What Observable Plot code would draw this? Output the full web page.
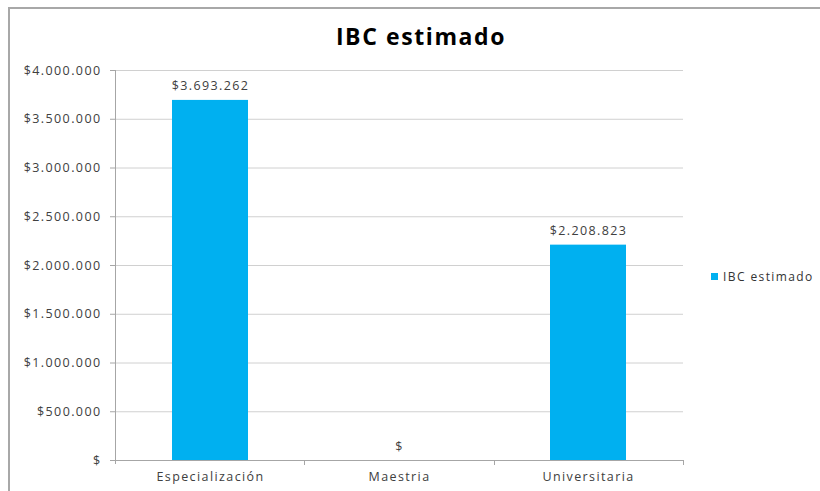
<!DOCTYPE html>
<html><head><meta charset="utf-8">
<script src="https://cdn.jsdelivr.net/npm/d3@7"></script>
<script src="https://cdn.jsdelivr.net/npm/@observablehq/plot@0.6"></script>
<style>
body{margin:0;background:#fff;}
#wrap{position:relative;width:820px;height:491px;overflow:hidden;font-family:"Open Sans",sans-serif;background:#fff;}
#frame{position:absolute;left:8px;top:7px;right:-4px;bottom:-4px;border-top:2px solid #a8a8a8;border-left:2px solid #a8a8a8;pointer-events:none;}
#title{height:58px;width:842px;text-align:center;font-weight:bold;font-size:23px;line-height:72px;color:#000;letter-spacing:1.6px;}
#legend{position:absolute;left:711px;top:268px;font-size:12px;color:#333;display:flex;align-items:center;letter-spacing:1.4px;}
#legend span.sw{display:inline-block;width:7px;height:7px;margin-right:5px;}
#chart svg{display:block;}
</style></head>
<body>
<div id="wrap">
  <div id="frame"></div>
  <div id="title">IBC estimado</div>
  <div id="chart"></div>
  <div id="legend"></div>
</div>
<script>
const categories = ["Especialización", "Maestria", "Universitaria"];
const values = [3693262, 0, 2208823];
const yTicks = [0, 500000, 1000000, 1500000, 2000000, 2500000, 3000000, 3500000, 4000000];
const seriesName = "IBC estimado";
const barColor = "#00B0F0";

const data = categories.map((c, i) => ({category: c, value: values[i]}));
const fmt = d => "$" + (d === 0 ? "" : d3.format(",")(d).replace(/,/g, "."));

const chart = Plot.plot({
  width: 820,
  height: 433,
  marginLeft: 115,
  marginRight: 137,
  marginTop: 12,
  marginBottom: 31,
  style: {fontFamily: "Open Sans, sans-serif", fontSize: "12.5px", color: "#404040", background: "transparent", letterSpacing: "1.4px"},
  x: {domain: categories, paddingInner: 0.6, paddingOuter: 0.3, label: null},
  y: {domain: [0, 4000000], label: null},
  marks: [
    Plot.gridY(yTicks, {stroke: "#d0d0d0", strokeOpacity: 1}),
    Plot.axisY(yTicks, {tickSize: 5, tickPadding: 9, tickFormat: fmt, stroke: "#a6a6a6", fontSize: 12.5, label: null}),
    Plot.axisX({tickSize: 0, tickPadding: 12, fontSize: 12.5, label: null}),
    Plot.barY(data, {x: "category", y: "value", fill: barColor}),
    Plot.ruleY([0], {stroke: "#a6a6a6"}),
    (index, scales, values, dims) => {
      const g = d3.create("svg:g").attr("stroke", "#a6a6a6").attr("stroke-width", 1);
      const x0 = dims.marginLeft, x1 = dims.width - dims.marginRight;
      const y0 = dims.marginTop, y1 = dims.height - dims.marginBottom;
      g.append("line").attr("x1", x0 + 0.5).attr("x2", x0 + 0.5).attr("y1", y0).attr("y2", y1 + 4);
      const step = (x1 - x0) / categories.length;
      for (let i = 1; i <= categories.length; i++) {
        const x = Math.round(x0 + i * step) + 0.5;
        g.append("line").attr("x1", x).attr("x2", x).attr("y1", y1).attr("y2", y1 + 5);
      }
      return g.node();
    },
    Plot.text(data, {x: "category", y: "value", text: d => fmt(d.value), dy: -14, fill: "#404040", fontSize: 12.5})
  ]
});
document.getElementById("chart").appendChild(chart);

const lg = document.getElementById("legend");
lg.innerHTML = `<span class="sw" style="background:${barColor}"></span><span>${seriesName}</span>`;
</script>
</body></html>
